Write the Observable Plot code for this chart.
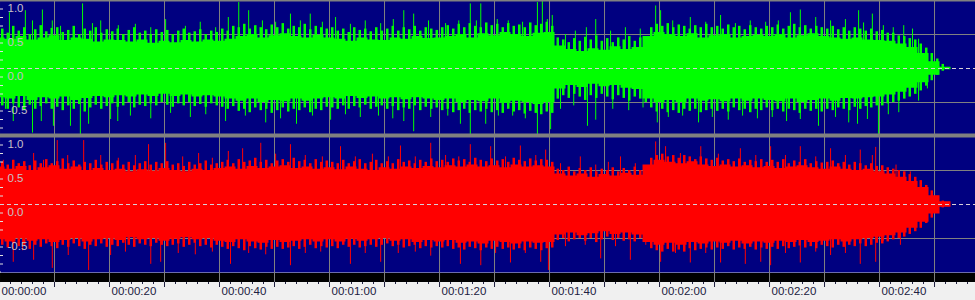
<!DOCTYPE html>
<html><head><meta charset="utf-8">
<script src="https://cdn.jsdelivr.net/npm/d3@7"></script>
<script src="https://cdn.jsdelivr.net/npm/@observablehq/plot@0.6"></script>
<style>
html,body{margin:0;padding:0;background:#f0f0f0;overflow:hidden;}
</style>
</head><body><div id="chart"></div>
<script>
// ---- data (seconds, amplitude) ----
const channels = ["L", "R"];
// dense body of the waveform, every 2 s
const coreTimes = [0,2,4,6,8,10,12,14,16,18,20,22,24,26,28,30,32,34,36,38,40,42,44,46,48,50,52,54,56,58,60,62,64,66,68,70,72,74,76,78,80,82,84,86,88,90,92,94,96,98,100,102,104,106,108,110,112,114,116,118,120,122,124,126,128,130,132,134,136,138,140,142,144,146,148,150,152,154,156,158,160,162,164,166,168,170,172,174];
const greenUpper = [0.45,0.43,0.47,0.42,0.45,0.48,0.41,0.45,0.43,0.39,0.42,0.41,0.39,0.42,0.37,0.40,0.38,0.41,0.39,0.42,0.40,0.43,0.47,0.50,0.45,0.48,0.51,0.47,0.45,0.49,0.45,0.43,0.40,0.45,0.42,0.41,0.45,0.43,0.47,0.44,0.45,0.47,0.50,0.45,0.51,0.48,0.53,0.50,0.47,0.52,0.53,0.33,0.28,0.25,0.29,0.27,0.32,0.28,0.31,0.47,0.53,0.50,0.47,0.51,0.45,0.48,0.50,0.45,0.47,0.49,0.47,0.50,0.45,0.48,0.51,0.47,0.45,0.43,0.45,0.42,0.41,0.40,0.36,0.31,0.22,0.10,0.02,0.0];
const greenLower = [-0.43,-0.45,-0.41,-0.47,-0.43,-0.45,-0.42,-0.47,-0.44,-0.41,-0.43,-0.40,-0.42,-0.39,-0.41,-0.38,-0.41,-0.39,-0.42,-0.40,-0.42,-0.45,-0.48,-0.45,-0.50,-0.47,-0.49,-0.45,-0.48,-0.45,-0.43,-0.45,-0.41,-0.44,-0.42,-0.45,-0.43,-0.46,-0.43,-0.45,-0.47,-0.45,-0.50,-0.47,-0.49,-0.45,-0.51,-0.48,-0.50,-0.53,-0.50,-0.30,-0.25,-0.28,-0.23,-0.27,-0.25,-0.29,-0.31,-0.45,-0.50,-0.47,-0.50,-0.45,-0.48,-0.46,-0.49,-0.45,-0.48,-0.45,-0.47,-0.49,-0.45,-0.50,-0.47,-0.45,-0.48,-0.44,-0.45,-0.43,-0.42,-0.39,-0.35,-0.29,-0.21,-0.10,-0.02,0.0];
const redUpper = [0.55,0.52,0.56,0.50,0.54,0.57,0.52,0.55,0.50,0.53,0.50,0.52,0.48,0.51,0.49,0.53,0.50,0.48,0.52,0.50,0.53,0.55,0.52,0.56,0.53,0.55,0.57,0.53,0.55,0.52,0.54,0.51,0.55,0.52,0.50,0.54,0.52,0.55,0.53,0.56,0.54,0.57,0.55,0.58,0.55,0.57,0.54,0.58,0.55,0.57,0.55,0.45,0.42,0.45,0.40,0.44,0.42,0.46,0.43,0.58,0.65,0.62,0.60,0.63,0.58,0.56,0.58,0.55,0.57,0.54,0.56,0.53,0.55,0.57,0.54,0.52,0.55,0.52,0.50,0.52,0.48,0.45,0.40,0.34,0.25,0.13,0.04,0.0];
const redLower = [-0.52,-0.55,-0.50,-0.54,-0.52,-0.56,-0.53,-0.50,-0.55,-0.52,-0.50,-0.53,-0.49,-0.52,-0.50,-0.54,-0.51,-0.49,-0.52,-0.50,-0.54,-0.56,-0.52,-0.55,-0.57,-0.53,-0.56,-0.54,-0.52,-0.55,-0.52,-0.55,-0.51,-0.54,-0.52,-0.50,-0.54,-0.52,-0.56,-0.53,-0.55,-0.53,-0.57,-0.55,-0.58,-0.54,-0.56,-0.58,-0.55,-0.57,-0.56,-0.45,-0.42,-0.46,-0.43,-0.40,-0.44,-0.42,-0.45,-0.56,-0.60,-0.57,-0.60,-0.56,-0.58,-0.55,-0.57,-0.54,-0.58,-0.55,-0.57,-0.54,-0.56,-0.53,-0.56,-0.54,-0.52,-0.55,-0.52,-0.50,-0.48,-0.46,-0.42,-0.35,-0.26,-0.14,-0.04,0.0];

// per-second peaks (fuzzy edge), t = 0.5, 1.5, ... 171.5
const fuzzTimes = [0.5,1.5,2.5,3.5,4.5,5.5,6.5,7.5,8.5,9.5,10.5,11.5,12.5,13.5,14.5,15.5,16.5,17.5,18.5,19.5,20.5,21.5,22.5,23.5,24.5,25.5,26.5,27.5,28.5,29.5,30.5,31.5,32.5,33.5,34.5,35.5,36.5,37.5,38.5,39.5,40.5,41.5,42.5,43.5,44.5,45.5,46.5,47.5,48.5,49.5,50.5,51.5,52.5,53.5,54.5,55.5,56.5,57.5,58.5,59.5,60.5,61.5,62.5,63.5,64.5,65.5,66.5,67.5,68.5,69.5,70.5,71.5,72.5,73.5,74.5,75.5,76.5,77.5,78.5,79.5,80.5,81.5,82.5,83.5,84.5,85.5,86.5,87.5,88.5,89.5,90.5,91.5,92.5,93.5,94.5,95.5,96.5,97.5,98.5,99.5,100.5,101.5,102.5,103.5,104.5,105.5,106.5,107.5,108.5,109.5,110.5,111.5,112.5,113.5,114.5,115.5,116.5,117.5,118.5,119.5,120.5,121.5,122.5,123.5,124.5,125.5,126.5,127.5,128.5,129.5,130.5,131.5,132.5,133.5,134.5,135.5,136.5,137.5,138.5,139.5,140.5,141.5,142.5,143.5,144.5,145.5,146.5,147.5,148.5,149.5,150.5,151.5,152.5,153.5,154.5,155.5,156.5,157.5,158.5,159.5,160.5,161.5,162.5,163.5,164.5,165.5,166.5,167.5,168.5,169.5,170.5,171.5];
const greenUpFuzz = [0.58,0.52,0.62,0.55,0.6,0.5,0.57,0.63,0.54,0.59, 0.6,0.53,0.56,0.62,0.5,0.58,0.55,0.6,0.52,0.57, 0.54,0.58,0.5,0.56,0.6,0.52,0.55,0.5,0.57,0.53, 0.56,0.5,0.55,0.58,0.52,0.54,0.57,0.5,0.55,0.53, 0.58,0.55,0.62,0.6,0.65,0.58,0.63,0.6,0.57,0.64, 0.6,0.66,0.58,0.62,0.6,0.65,0.57,0.62,0.6,0.58, 0.6,0.55,0.58,0.53,0.6,0.56,0.58,0.54,0.6,0.55, 0.58,0.62,0.55,0.6,0.57,0.62,0.55,0.6,0.58,0.56, 0.6,0.63,0.58,0.65,0.6,0.66,0.62,0.6,0.67,0.63, 0.65,0.6,0.66,0.62,0.64,0.6,0.67,0.63,0.65,0.68, 0.62,0.45,0.42,0.38,0.44,0.4,0.46,0.42,0.48,0.4, 0.44,0.38,0.45,0.42,0.47,0.4,0.45,0.43,0.6,0.65, 0.62,0.66,0.6,0.64,0.62,0.58,0.63,0.6,0.65,0.6, 0.62,0.58,0.64,0.6,0.62,0.57,0.63,0.6,0.58,0.62, 0.6,0.64,0.58,0.62,0.65,0.6,0.63,0.58,0.62,0.6, 0.58,0.62,0.57,0.6,0.55,0.6,0.58,0.55,0.58,0.54, 0.56,0.52,0.52,0.48,0.47,0.44,0.42,0.36,0.3,0.22,0.14,0.06];
const greenDownFuzz = [-0.55,-0.6,-0.52,-0.58,-0.62,-0.54,-0.6,-0.56,-0.52,-0.6, -0.57,-0.62,-0.55,-0.6,-0.53,-0.64,-0.58,-0.54,-0.6,-0.56, -0.52,-0.57,-0.55,-0.5,-0.58,-0.54,-0.56,-0.52,-0.55,-0.5, -0.54,-0.57,-0.52,-0.55,-0.5,-0.56,-0.53,-0.57,-0.52,-0.55, -0.57,-0.6,-0.56,-0.63,-0.6,-0.65,-0.58,-0.62,-0.6,-0.66, -0.62,-0.58,-0.64,-0.6,-0.62,-0.58,-0.65,-0.6,-0.62,-0.57, -0.58,-0.6,-0.55,-0.6,-0.56,-0.58,-0.54,-0.6,-0.57,-0.55, -0.6,-0.56,-0.62,-0.58,-0.6,-0.55,-0.62,-0.57,-0.6,-0.58, -0.62,-0.6,-0.65,-0.62,-0.6,-0.66,-0.62,-0.64,-0.6,-0.65, -0.62,-0.66,-0.6,-0.64,-0.62,-0.67,-0.63,-0.66,-0.68,-0.64, -0.66,-0.45,-0.4,-0.44,-0.38,-0.42,-0.47,-0.4,-0.44,-0.38, -0.42,-0.46,-0.4,-0.44,-0.48,-0.42,-0.45,-0.5,-0.58,-0.64, -0.6,-0.65,-0.62,-0.66,-0.6,-0.63,-0.6,-0.65,-0.62,-0.6, -0.63,-0.6,-0.64,-0.58,-0.62,-0.6,-0.65,-0.6,-0.62,-0.58, -0.62,-0.6,-0.64,-0.6,-0.62,-0.66,-0.6,-0.63,-0.6,-0.64, -0.6,-0.62,-0.58,-0.6,-0.62,-0.57,-0.6,-0.56,-0.58,-0.55, -0.55,-0.52,-0.5,-0.48,-0.45,-0.42,-0.38,-0.33,-0.26,-0.18,-0.1,-0.04];
const redUpFuzz = [0.62,0.58,0.65,0.6,0.63,0.57,0.64,0.6,0.66,0.6, 0.63,0.67,0.6,0.64,0.58,0.62,0.6,0.65,0.58,0.62, 0.6,0.64,0.58,0.62,0.57,0.6,0.63,0.58,0.62,0.6, 0.63,0.58,0.6,0.56,0.62,0.58,0.6,0.64,0.58,0.6, 0.62,0.65,0.6,0.66,0.62,0.64,0.68,0.62,0.65,0.6, 0.64,0.66,0.62,0.68,0.63,0.65,0.6,0.66,0.62,0.64, 0.62,0.6,0.65,0.6,0.63,0.66,0.6,0.62,0.65,0.6, 0.63,0.6,0.66,0.62,0.64,0.6,0.65,0.62,0.67,0.63, 0.65,0.62,0.67,0.64,0.66,0.62,0.68,0.65,0.63,0.67, 0.64,0.66,0.62,0.68,0.65,0.63,0.67,0.64,0.66,0.65, 0.62,0.52,0.5,0.55,0.48,0.53,0.5,0.54,0.48,0.52, 0.5,0.54,0.48,0.53,0.5,0.55,0.5,0.52,0.68,0.72, 0.74,0.7,0.72,0.68,0.72,0.7,0.66,0.7,0.67,0.65, 0.68,0.64,0.66,0.63,0.67,0.62,0.65,0.63,0.66,0.62, 0.65,0.62,0.66,0.6,0.64,0.62,0.66,0.6,0.63,0.61, 0.62,0.64,0.6,0.62,0.58,0.62,0.6,0.57,0.6,0.56, 0.57,0.54,0.52,0.5,0.48,0.44,0.4,0.35,0.28,0.2,0.12,0.05];
const redDownFuzz = [-0.6,-0.64,-0.58,-0.62,-0.6,-0.66,-0.6,-0.63,-0.58,-0.62, -0.65,-0.6,-0.63,-0.58,-0.62,-0.66,-0.6,-0.62,-0.58,-0.63, -0.6,-0.62,-0.57,-0.6,-0.63,-0.58,-0.6,-0.62,-0.57,-0.6, -0.62,-0.6,-0.58,-0.63,-0.6,-0.57,-0.62,-0.6,-0.64,-0.6, -0.63,-0.66,-0.62,-0.65,-0.68,-0.62,-0.65,-0.67,-0.63,-0.66, -0.63,-0.66,-0.64,-0.62,-0.66,-0.63,-0.6,-0.65,-0.62,-0.64, -0.62,-0.65,-0.6,-0.63,-0.6,-0.64,-0.62,-0.6,-0.63,-0.6, -0.58,-0.62,-0.6,-0.64,-0.62,-0.6,-0.65,-0.62,-0.64,-0.62, -0.64,-0.62,-0.66,-0.64,-0.67,-0.63,-0.65,-0.68,-0.64,-0.66, -0.63,-0.66,-0.64,-0.67,-0.65,-0.68,-0.64,-0.66,-0.68,-0.65, -0.64,-0.53,-0.5,-0.55,-0.52,-0.5,-0.54,-0.5,-0.56,-0.52, -0.48,-0.53,-0.5,-0.54,-0.52,-0.55,-0.5,-0.53,-0.65,-0.68, -0.7,-0.66,-0.7,-0.67,-0.7,-0.65,-0.68,-0.66,-0.64,-0.67, -0.64,-0.66,-0.62,-0.67,-0.64,-0.66,-0.63,-0.67,-0.64,-0.66, -0.63,-0.66,-0.62,-0.65,-0.63,-0.61,-0.64,-0.62,-0.65,-0.6, -0.62,-0.64,-0.6,-0.63,-0.6,-0.62,-0.58,-0.62,-0.6,-0.57, -0.58,-0.55,-0.52,-0.5,-0.48,-0.44,-0.4,-0.35,-0.28,-0.2,-0.12,-0.05];

// tall peaks: [seconds, amplitude]
const greenUpSpikes = [[1.8,0.82],[4.7,0.85],[6.0,0.7],[7.8,0.86],[9.6,0.7],[11.1,0.62],[15.1,0.95],[16.9,0.66],[18.4,0.7],[21.6,0.63],[24.7,0.65],[27.5,0.6],[30.2,0.72],[33.8,0.62],[36.5,0.68],[39.3,0.6],[41.6,0.75],[43.5,0.97],[45.3,0.85],[47.8,0.7],[50.2,0.68],[52.9,0.8],[54.7,0.7],[56.5,0.8],[58.7,0.68],[61.1,0.75],[63.8,0.65],[66.5,0.7],[69.3,0.66],[71.6,0.72],[73.5,0.85],[75.3,0.8],[78,0.7],[81.1,0.66],[83.5,0.7],[85.6,0.95],[86.7,0.7],[87.5,0.95],[90.5,0.72],[92.5,0.7],[95.1,0.68],[97.8,0.97],[98.7,1.0],[99.6,0.72],[100.5,0.78],[102.9,0.5],[104.7,0.55],[106.7,0.6],[108.4,0.72],[111.1,0.55],[113.8,0.6],[116.5,0.58],[119.3,0.92],[120.2,0.85],[122.4,0.7],[125.6,0.75],[128.4,0.68],[131.1,0.78],[133.8,0.66],[136.5,0.7],[139.3,0.68],[141.6,0.7],[143.8,0.82],[145.6,0.86],[148.4,0.75],[151.1,0.7],[153.8,0.72],[156.2,0.85],[157.1,0.67],[158.7,0.8],[160.7,0.63],[162.5,0.6],[164.4,0.63],[166,0.58],[167.1,0.43]];
const greenDownSpikes = [[1.1,-0.6],[2.5,-0.78],[6.0,-0.95],[7.6,-0.78],[9.8,-0.85],[12.9,-0.85],[14.7,-0.97],[16.2,-0.82],[20.2,-0.75],[21.5,-0.78],[23.8,-0.7],[27.5,-0.74],[31.1,-0.66],[34.7,-0.72],[37.5,-0.68],[41.1,-0.78],[44.7,-0.7],[48.4,-0.8],[51.1,-0.74],[54,-0.82],[56.9,-0.7],[60.2,-0.76],[62.9,-0.68],[65.6,-0.72],[68.9,-0.7],[71.5,-0.74],[73.5,-0.78],[75.3,-0.93],[78.4,-0.72],[81.5,-0.7],[83.8,-0.82],[85.6,-0.97],[88.4,-0.82],[90.7,-0.7],[93.3,-0.7],[95.6,-0.74],[97.8,-0.97],[100.2,-0.9],[102,-0.6],[104.4,-0.55],[106.9,-0.85],[108.4,-0.76],[111.5,-0.6],[114.4,-0.62],[117,-0.58],[119.6,-0.8],[121.6,-0.72],[124.2,-0.7],[127.1,-0.8],[129.6,-0.72],[132.5,-0.76],[135.1,-0.7],[137.8,-0.74],[140.5,-0.72],[143.1,-0.78],[145.6,-0.75],[148.9,-0.85],[152,-0.72],[154.4,-0.8],[156,-0.82],[157.8,-0.75],[159.8,-0.97],[161.6,-0.68],[163.5,-0.65],[167.1,-0.48],[168.7,-0.3]];
const redUpSpikes = [[0.7,0.65],[2.5,0.65],[6.2,0.75],[8,0.65],[10.5,0.94],[12.4,0.72],[15.3,0.94],[18.4,0.72],[21.6,0.68],[24.7,0.72],[27.1,0.88],[30.2,0.9],[33.3,0.7],[36.2,0.75],[38.7,0.68],[41.6,0.78],[44.2,0.82],[47.5,0.9],[50.2,0.74],[52.9,0.88],[55.6,0.72],[58.7,0.7],[62,0.85],[64.7,0.7],[67.8,0.74],[70.7,0.7],[72.9,0.86],[75.6,0.7],[78.4,0.9],[81.1,0.72],[83.5,0.7],[85.6,0.88],[89.3,0.85],[92,0.7],[94.7,0.86],[97.5,0.72],[99.3,0.8],[102,0.6],[105.6,0.7],[108.4,0.58],[110.7,0.62],[112.9,0.7],[115.6,0.6],[119.3,0.92],[121.1,0.85],[123.8,0.75],[127.5,0.85],[130.7,0.74],[134.7,0.82],[137.5,0.72],[140.2,0.85],[142.9,0.72],[145.6,0.85],[148.4,0.7],[151.1,0.82],[153.8,0.72],[156.5,0.8],[158.7,0.72],[159.3,0.84],[162.4,0.5],[163,0.58],[165.6,0.48],[167.5,0.35]];
const redDownSpikes = [[2.5,-0.85],[4.2,-0.68],[6.2,-0.82],[9.6,-0.94],[12.5,-0.75],[16.2,-0.97],[20.2,-0.75],[22.9,-0.7],[27.5,-0.88],[29.3,-0.85],[32.5,-0.72],[35.6,-0.74],[38.7,-0.7],[42,-0.88],[45.3,-0.72],[48.4,-0.74],[52.9,-0.9],[55.6,-0.72],[58.4,-0.7],[63.8,-0.88],[66.5,-0.72],[69.3,-0.85],[72.5,-0.72],[75.6,-0.7],[78.4,-0.76],[83.8,-0.88],[87.5,-0.9],[90.2,-0.72],[92.9,-0.86],[95.6,-0.72],[98.4,-0.85],[99.8,-0.97],[102.9,-0.62],[106.5,-0.6],[109.3,-0.8],[112,-0.62],[114.7,-0.82],[117.5,-0.6],[120.2,-0.85],[122.9,-0.72],[125.6,-0.86],[128.4,-0.72],[131.1,-0.86],[135.6,-0.88],[138.4,-0.85],[140.2,-0.9],[142.9,-0.72],[145.6,-0.86],[148.4,-0.7],[151.1,-0.75],[153.8,-0.72],[156.5,-0.88],[159.3,-0.85],[160.7,-0.54],[163.8,-0.6],[165.6,-0.38]];

// axes
const labelTimes = [0,20,40,60,80,100,120,140,160];
const timeLabels = ["00:00:00","00:00:20","00:00:40","00:01:00","00:01:20","00:01:40","00:02:00","00:02:20","00:02:40"];
const gridTimes = [0,10,20,30,40,50,60,70,80,90,100,110,120,130,140,150,160,170];
const minorTimes = [0,2,4,6,8,10,12,14,16,18,20,22,24,26,28,30,32,34,36,38,40,42,44,46,48,50,52,54,56,58,60,62,64,66,68,70,72,74,76,78,80,82,84,86,88,90,92,94,96,98,100,102,104,106,108,110,112,114,116,118,120,122,124,126,128,130,132,134,136,138,140,142,144,146,148,150,152,154,156,158,160,162,164,166,168,170,172,174,176];
const ampLabelValues = [1, 0.5, 0, -0.5];
const ampLabels = ["1.0", "0.5", "0.0", "-0.5"];
const ampMinorTicks = [0.875, 0.75, 0.625, 0.375, 0.25, 0.125, -0.125, -0.25, -0.375, -0.625, -0.75, -0.875];

// ---- tables ----
const core = [];
coreTimes.forEach((t, i) => {
  core.push({ch: "L", t, lo: greenLower[i], hi: greenUpper[i]});
  core.push({ch: "R", t, lo: redLower[i], hi: redUpper[i]});
});
const fuzz = [];
fuzzTimes.forEach((t, i) => {
  fuzz.push({ch: "L", t, v: greenUpFuzz[i]}, {ch: "L", t, v: greenDownFuzz[i]});
  fuzz.push({ch: "R", t, v: redUpFuzz[i]}, {ch: "R", t, v: redDownFuzz[i]});
});
const spikes = [
  ...greenUpSpikes.map(([t, v]) => ({ch: "L", t, v})),
  ...greenDownSpikes.map(([t, v]) => ({ch: "L", t, v})),
  ...redUpSpikes.map(([t, v]) => ({ch: "R", t, v})),
  ...redDownSpikes.map(([t, v]) => ({ch: "R", t, v}))
];
const colorOf = {L: "#00ff00", R: "#ff0000"};

const chart = Plot.plot({
  width: 975,
  height: 300,
  marginTop: 0,
  marginBottom: 28,
  marginLeft: 0,
  marginRight: 0,
  x: {domain: [0.18, 177.45], axis: null},
  y: {domain: [-1, 1], axis: null},
  fy: {domain: channels, axis: null, padding: 0},
  color: {type: "identity"},
  style: {
    background: "linear-gradient(to bottom, #000080 0px, #000080 271px, #d8d8d8 271px, #d8d8d8 273px, #000000 273px, #000000 282px, #f0f0f0 282px)",
    fontFamily: "Liberation Sans, Arial, sans-serif"
  },
  marks: [
    Plot.frame({fill: "#000080"}),
    Plot.ruleY([-0.5, 0.5], {stroke: "#808080"}),
    Plot.ruleX(gridTimes, {stroke: "#808080", insetBottom: -10}),
    Plot.areaY(core, {x: "t", y1: "lo", y2: "hi", fy: "ch", z: "ch", fill: d => colorOf[d.ch], curve: "step"}),
    Plot.ruleX(fuzz, {x: "t", y1: 0, y2: "v", fy: "ch", stroke: d => colorOf[d.ch], strokeWidth: 2.5}),
    Plot.ruleX(spikes, {x: "t", y1: 0, y2: "v", fy: "ch", stroke: d => colorOf[d.ch], strokeWidth: 1}),
    Plot.ruleY([0], {stroke: "#d8d0d8", strokeDasharray: "4,3"}),
    Plot.ruleY(ampMinorTicks, {stroke: "#e0e0e0", insetRight: 972}),
    Plot.ruleY([{ch: "L", v: 1}], {y: "v", fy: "ch", stroke: "#808080", strokeWidth: 2}),
    Plot.ruleY([{ch: "L", v: -1}], {y: "v", fy: "ch", stroke: "#808080", strokeWidth: 4, dy: -1}),
    Plot.text(ampLabelValues, {
      y: d => d, text: (d, i) => ampLabels[i], frameAnchor: "left", dx: 7, dy: 3,
      textAnchor: "start", lineAnchor: "top", fill: "#c8c0c8", fontSize: 11.5
    }),
    Plot.axisX(minorTimes, {anchor: "bottom", facetAnchor: "bottom", label: null, tickSize: 2, dy: 10, tickFormat: () => "", stroke: "#202040"}),
    Plot.axisX(gridTimes, {anchor: "bottom", facetAnchor: "bottom", label: null, tickSize: 5, dy: 10, tickFormat: () => "", stroke: "#202040"}),
    Plot.axisX(labelTimes, {
      anchor: "bottom", facetAnchor: "bottom", label: null, tickSize: 0, tickPadding: 4, dy: 10, dx: 2,
      textAnchor: "start", tickFormat: d => timeLabels[labelTimes.indexOf(d)],
      fill: "#202040", fontSize: 11.5
    })
  ]
});
document.getElementById("chart").appendChild(chart);
</script>
</body></html>
